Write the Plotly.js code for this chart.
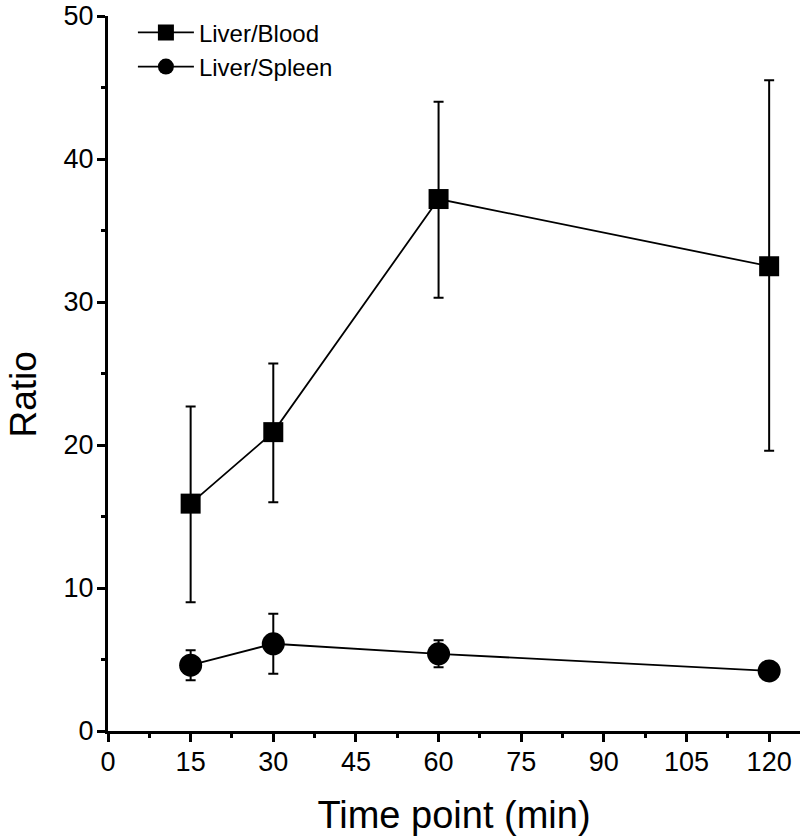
<!DOCTYPE html>
<html>
<head>
<meta charset="utf-8">
<script src="https://cdn.plot.ly/plotly-3.0.1.min.js"></script>
<style>html,body{margin:0;padding:0;background:#fff;}#chart{width:800px;height:839px;}</style>
</head>
<body>
<div id="chart"></div>
<script>
var timePoints = [15, 30, 60, 120];
var bloodRatio = [15.9, 20.9, 37.2, 32.5];
var bloodErrPlus = [6.8, 4.8, 6.8, 13.0];
var bloodErrMinus = [6.9, 4.9, 6.9, 12.9];
var spleenRatio = [4.6, 6.1, 5.4, 4.2];
var spleenErr = [1.05, 2.1, 0.95, 0.6];
var xTicks = [0, 15, 30, 45, 60, 75, 90, 105, 120];
var yTicks = [0, 10, 20, 30, 40, 50];

var font = 'Liberation Sans, Arial, sans-serif';

var traces = [
  {
    x: timePoints, y: bloodRatio, name: 'Liver/Blood', type: 'scatter', mode: 'lines+markers',
    line: {color: '#000', width: 1.8},
    marker: {symbol: 'square', size: 20, color: '#000'},
    error_y: {type: 'data', symmetric: false, array: bloodErrPlus, arrayminus: bloodErrMinus,
              color: '#000', thickness: 2, width: 5},
    cliponaxis: false
  },
  {
    x: timePoints, y: spleenRatio, name: 'Liver/Spleen', type: 'scatter', mode: 'lines+markers',
    line: {color: '#000', width: 1.8},
    marker: {symbol: 'circle', size: 23, color: '#000'},
    error_y: {type: 'data', array: spleenErr, color: '#000', thickness: 2, width: 5},
    cliponaxis: false
  }
];

var layout = {
  width: 800, height: 839,
  margin: {l: 108, r: 0, t: 16, b: 108},
  paper_bgcolor: '#fff', plot_bgcolor: '#fff',
  showlegend: true,
  legend: {x: 0.036, y: 1.008, xanchor: 'left', yanchor: 'top', bgcolor: 'rgba(0,0,0,0)',
           font: {family: font, size: 24, color: '#000'}, itemwidth: 56, tracegroupgap: 0},
  xaxis: {
    range: [0, 125.6], tickmode: 'array', tickvals: xTicks, ticktext: xTicks.map(String),
    showgrid: false, zeroline: false, showline: true, linecolor: '#000', linewidth: 3,
    ticks: 'outside', ticklen: 8, tickwidth: 3, tickcolor: '#000',
    minor: {dtick: 7.5, tick0: 0, ticks: 'outside', ticklen: 4, tickwidth: 3, tickcolor: '#000', showgrid: false},
    tickfont: {family: font, size: 27, color: '#000'},
    ticklabelstandoff: -3,
    title: {text: 'Time point (min)', font: {family: font, size: 38, color: '#000'}, standoff: 25},
    automargin: false
  },
  yaxis: {
    range: [0, 50], tickmode: 'array', tickvals: yTicks, ticktext: yTicks.map(String),
    showgrid: false, zeroline: false, showline: true, linecolor: '#000', linewidth: 3,
    ticks: 'outside', ticklen: 8, tickwidth: 3, tickcolor: '#000',
    minor: {dtick: 5, tick0: 0, ticks: 'outside', ticklen: 4, tickwidth: 3, tickcolor: '#000', showgrid: false},
    tickfont: {family: font, size: 27, color: '#000'},
    ticklabelstandoff: -2,
    ticklabeloverflow: 'allow',
    automargin: false
  },
  annotations: [{
    text: 'Ratio', xref: 'paper', yref: 'paper', x: -0.122, y: 0.47,
    xanchor: 'center', yanchor: 'middle', textangle: -90, showarrow: false,
    font: {family: font, size: 37, color: '#000'}
  }]
};

Plotly.newPlot('chart', traces, layout, {displayModeBar: false, staticPlot: true});
</script>
</body>
</html>
